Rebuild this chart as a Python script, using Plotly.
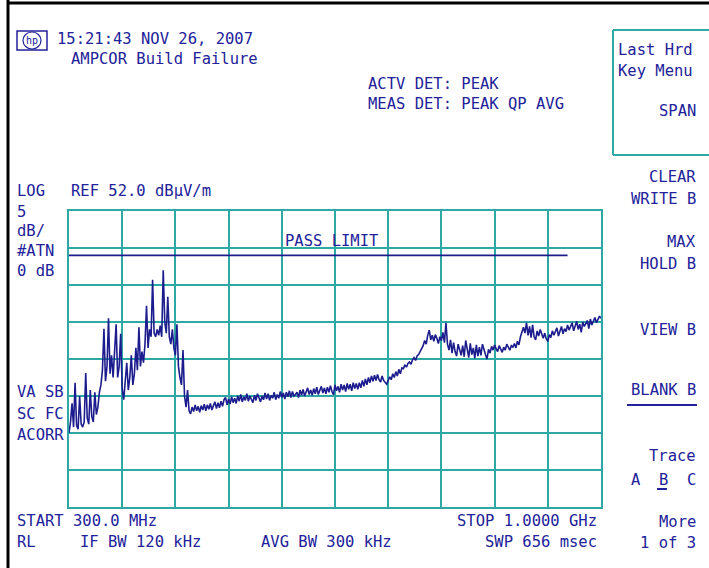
import numpy as np
import plotly.graph_objects as go

# Sweep settings
start_mhz = 300.0
stop_mhz = 1000.0
ref_level_db = 52.0
db_per_div = 5
n_vdiv = 8
limit_db = 46.0
limit_stop_mhz = 956.0

# Measured trace B (dBuV/m), 2 MHz steps from START to STOP
level_dbuv = [
    22.0, 23.5, 26.0, 22.8, 28.8, 23.0, 22.5, 27.0, 23.2, 22.8,   # 300
    23.5, 30.1, 24.0, 23.2, 27.8, 24.2, 23.5, 27.5, 24.5, 25.5,   # 320
    27.5, 28.5, 30.5, 36.1, 29.0, 31.0, 37.5, 30.0, 32.5, 29.5,   # 340
    33.0, 36.7, 29.5, 31.0, 35.4, 28.0, 26.5, 29.0, 31.5, 27.8,   # 360
    29.5, 32.5, 28.5, 30.0, 33.5, 30.5, 36.3, 31.0, 33.0, 31.5,   # 380
    34.0, 39.2, 33.5, 36.0, 35.0, 42.7, 35.5, 35.0, 36.0, 35.2,   # 400
    36.5, 35.0, 44.0, 37.0, 35.5, 40.4, 35.0, 34.0, 36.0, 33.5,   # 420
    32.5, 36.7, 31.0, 29.5, 28.5, 33.2, 27.0, 25.5, 27.8, 25.0,   # 440
    24.6, 25.5, 24.9, 25.8, 25.0, 25.6, 24.8, 25.7, 25.1, 25.9,   # 460
    25.0, 25.8, 25.2, 26.0, 25.1, 25.7, 26.2, 25.3, 26.1, 25.4,   # 480
    26.3, 25.6, 26.5, 26.8, 25.8, 26.6, 25.9, 26.9, 26.1, 26.7,   # 500
    26.0, 27.0, 26.3, 27.2, 26.2, 26.9, 26.4, 27.3, 26.3, 27.0,   # 520
    26.5, 26.1, 27.1, 26.4, 27.3, 26.6, 26.2, 27.0, 26.5, 27.4,   # 540
    26.6, 27.3, 26.4, 27.1, 26.7, 27.5, 26.5, 27.2, 26.7, 27.6,   # 560
    26.8, 27.4, 26.6, 27.5, 26.9, 27.7, 26.8, 27.6, 27.0, 27.2,   # 580
    27.5, 26.8, 27.8, 27.1, 27.9, 27.0, 27.6, 28.1, 27.2, 27.8,   # 600
    27.1, 28.0, 27.3, 28.2, 27.2, 27.9, 28.3, 27.4, 28.1, 27.3,   # 620
    28.2, 27.5, 28.4, 27.6, 27.2, 28.5, 27.7, 28.3, 27.5, 28.6,   # 640
    27.8, 28.5, 27.6, 28.7, 27.9, 28.6, 27.7, 28.8, 28.0, 28.7,   # 660
    27.9, 28.8, 28.1, 29.1, 28.3, 29.3, 28.5, 29.5, 28.8, 29.7,   # 680
    29.0, 29.8, 29.1, 29.9, 29.2, 28.9, 29.7, 29.1, 28.8, 28.6,   # 700
    29.1, 29.6, 29.2, 30.0, 29.5, 30.3, 29.7, 30.6, 30.0, 30.8,   # 720
    30.7, 31.2, 30.9, 31.4, 31.6, 31.3, 31.9, 32.2, 31.8, 32.4,   # 740
    32.6, 33.0, 33.4, 33.8, 34.5, 34.0, 35.2, 35.9, 34.6, 35.2,   # 760
    34.4, 35.3, 34.8, 34.1, 35.0, 34.5, 35.6, 34.2, 36.9, 34.0,   # 780
    33.2, 34.6, 32.8, 34.2, 33.0, 32.4, 34.0, 33.1, 32.5, 33.8,   # 800
    32.3, 34.5, 33.0, 32.2, 34.1, 32.6, 33.5, 32.1, 33.9, 32.4,   # 820
    33.6, 32.5, 34.0, 33.1, 32.6, 32.0, 33.3, 32.8, 33.7, 33.2,   # 840
    33.9, 33.4, 33.0, 33.8, 33.3, 32.9, 33.6, 33.2, 34.0, 33.5,   # 860
    33.2, 33.8, 33.6, 34.1, 33.5, 34.4, 33.9, 35.0, 35.7, 36.3,   # 880
    35.5, 36.9, 35.2, 36.4, 34.9, 36.6, 35.0, 34.6, 35.8, 35.1,   # 900
    36.0, 35.2, 34.8, 35.5, 34.7, 34.4, 35.3, 34.9, 35.8, 35.2,   # 920
    35.6, 36.2, 35.1, 35.9, 36.4, 35.4, 36.1, 35.7, 36.6, 35.9,   # 940
    36.3, 36.9, 35.8, 36.5, 37.1, 36.0, 36.7, 35.6, 37.0, 36.4,   # 960
    36.8, 37.2, 36.1, 37.4, 36.6, 37.0, 37.6, 36.9, 37.3, 37.8,   # 980
    37.5,                                                         # 1000
]
freq_mhz = np.linspace(start_mhz, stop_mhz, len(level_dbuv))

# Screen annotation text
header_lines = ["15:21:43 NOV 26, 2007", "AMPCOR Build Failure"]
detector_lines = ["ACTV DET: PEAK", "MEAS DET: PEAK QP AVG"]
left_labels = [("LOG", 191), ("5", 212), ("dB/", 231), ("#ATN", 251), ("0 dB", 271),
               ("VA SB", 392), ("SC FC", 414), ("ACORR", 435)]
menu_labels = [("Last Hrd", 50, "left"), ("Key Menu", 71, "left"), ("SPAN", 111, "right"),
               ("CLEAR", 177, "right"), ("WRITE B", 199, "right"),
               ("MAX", 242, "right"), ("HOLD B", 264, "right"),
               ("VIEW B", 330, "right"), ("BLANK B", 390, "right"),
               ("Trace", 456, "right"), ("A  B  C", 480, "right"),
               ("More", 522, "right"), ("1 of 3", 543, "right")]
ref_label = f"REF {ref_level_db:.1f} dBµV/m"
start_label = f"START {start_mhz:.1f} MHz"
stop_label = f"STOP {stop_mhz / 1000:.4f} GHz"
bottom_left = ["RL", "IF BW 120 kHz", "AVG BW 300 kHz"]
sweep_label = "SWP 656 msec"

W, H = 709, 568
L, R, T, B = 69, 601, 211, 507
GRID = "#2ea8a4"
INK = "#22229a"
TRACE = "#1c1c8e"
FONT = "DejaVu Sans Mono"
FS = 15.5


def px(x):
    return (x - L) / (R - L)


def py(y):
    return (B - y) / (B - T)


fig = go.Figure()
fig.add_trace(go.Scatter(x=freq_mhz, y=level_dbuv, mode="lines",
                         line=dict(color=TRACE, width=1.6), hoverinfo="skip"))
# Limit line
fig.add_trace(go.Scatter(x=[start_mhz, limit_stop_mhz], y=[limit_db, limit_db], mode="lines",
                         line=dict(color=TRACE, width=1.8), hoverinfo="skip"))

bottom_db = ref_level_db - n_vdiv * db_per_div
fig.update_xaxes(range=[start_mhz, stop_mhz], tick0=start_mhz, dtick=(stop_mhz - start_mhz) / 10,
                 showgrid=True, gridcolor=GRID, gridwidth=2, showticklabels=False, ticks="",
                 zeroline=False, showline=True, linecolor=GRID, linewidth=2, mirror=True)
fig.update_yaxes(range=[bottom_db, ref_level_db], tick0=bottom_db, dtick=db_per_div,
                 showgrid=True, gridcolor=GRID, gridwidth=2, showticklabels=False, ticks="",
                 zeroline=False, showline=True, linecolor=GRID, linewidth=2, mirror=True)

ann = []


def text(s, x, y, anchor="left", size=FS, color=INK):
    ann.append(dict(text=s, x=px(x), y=py(y), xref="paper", yref="paper",
                    xanchor=anchor, yanchor="middle", showarrow=False,
                    font=dict(family=FONT, size=size, color=color)))


text(header_lines[0], 55, 39)
text(header_lines[1], 69, 59)
text(detector_lines[0], 366, 84)
text(detector_lines[1], 366, 104)
for s, y in left_labels:
    text(s, 15, y)
text(ref_label, 69, 191)
for s, y, a in menu_labels:
    if a == "left":
        text(s, 616, y)
    else:
        text(s, 698, y, anchor="right")
text(start_label, 15, 521)
text(bottom_left[0], 15, 542)
text(bottom_left[1], 78, 542)
text(bottom_left[2], 259, 542)
text(stop_label, 599, 521, anchor="right")
text(sweep_label, 599, 542, anchor="right")
# PASS LIMIT message on the graticule
ann.append(dict(text="PASS LIMIT", x=581.0, y=47.9, xref="x", yref="y",
                xanchor="left", yanchor="middle", showarrow=False,
                font=dict(family=FONT, size=FS, color=INK)))

shapes = []


def line(x0, y0, x1, y1, color, width):
    shapes.append(dict(type="line", xref="paper", yref="paper",
                       x0=px(x0), y0=py(y0), x1=px(x1), y1=py(y1),
                       line=dict(color=color, width=width)))


# Outer black frame
line(8, 0, 8, H, "black", 3)
line(8, 3, W, 3, "black", 3)
# Softkey menu box
line(613, 30, 613, 155, GRID, 2)
line(613, 30, 709, 30, GRID, 2)
line(613, 155, 709, 155, GRID, 2)
# Underlines in the menu
line(627, 405, 697, 405, INK, 2)
line(657, 489, 667, 489, INK, 2)
# Logo box
shapes.append(dict(type="rect", xref="paper", yref="paper",
                   x0=px(17), y0=py(31), x1=px(47), y1=py(50),
                   line=dict(color=INK, width=1.5)))
shapes.append(dict(type="circle", xref="paper", yref="paper",
                   x0=px(23), y0=py(32), x1=px(41), y1=py(49),
                   line=dict(color=INK, width=1.2)))
ann.append(dict(text="hp", x=px(32), y=py(40.5), xref="paper", yref="paper",
                xanchor="center", yanchor="middle", showarrow=False,
                font=dict(family=FONT, size=10, color=INK)))

fig.update_layout(width=W, height=H, margin=dict(l=L, r=W - R, t=T, b=H - B),
                  paper_bgcolor="white", plot_bgcolor="white", showlegend=False,
                  annotations=ann, shapes=shapes)

fig.write_html("out.html")
